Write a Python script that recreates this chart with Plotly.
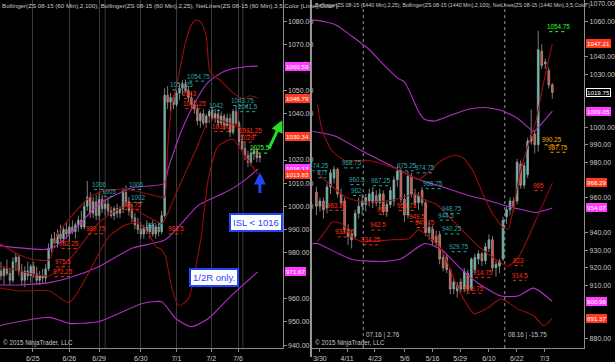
import plotly.graph_objects as go
import numpy as np

# ---------------- LEFT PANEL (60 min) ----------------
L_open = [972,970,973,971,968,976,978,972,968,972,970,974,971,968,970,969,973,982,986,984,
          988,986,990,988,991,989,992,994,991,1000,1004,997,1002,996,1003,999,1001,998,996,999,
          997,999,1006,1002,998,995,992,990,988,991,989,992,988,991,989,996,1048,1045,1047,1044,
          1049,1051,1053,1050,1047,1044,1042,1037,1040,1036,1039,1041,1038,1040,1036,1039,1035,1038,1032,1041,
          1036,1028,1025,1022,1019,1023,1024,1021]
L_high = [976,974,977,973,978,980,979,975,974,976,975,976,974,972,973,975,984,988,989,990,
          992,991,993,992,994,993,996,998,1002,1011,1006,1004,1005,1006,1005,1003,1004,1000,1000,1001,
          1000,1008,1009,1004,1001,997,995,993,992,994,993,994,992,993,998,1051,1052,1049,1048,1050,
          1053,1054.5,1054.75,1052,1049,1046,1044,1041,1042,1040,1042,1043,1042,1042,1041,1040,1040,1040,1042,1043.75,
          1037,1031,1028,1024,1025,1026,1025,1023]
L_low = [968,966,970,966,967,972,970,966,965,968,967,969,966,966,967,967,972,980,982,982,
         985,984,986,985,988,986,989,990,990,998,995,995,994,994,997,996,996,995,994,995,
         995,997,1000,996,993,990,988,986,986,988,986,987,986,987,988,995,1042,1041,1042,1043,
         1046,1048,1049,1045,1042,1040,1035,1034,1035,1034,1036,1037,1036,1034,1035,1033,1034,1030,1031,1035,
         1026,1024,1020,1017,1017.5,1020,1019,1019]
L_close = [970,973,971,968,976,978,972,968,972,970,974,971,968,970,969,973,982,986,984,988,
           986,990,988,991,989,992,994,991,1000,1004,997,1002,996,1003,999,1001,998,996,999,997,
           999,1006,1002,998,995,992,990,988,991,989,992,988,991,989,996,1048,1045,1047,1044,1049,
           1051,1053,1050,1047,1044,1042,1037,1040,1036,1039,1041,1038,1040,1036,1039,1035,1038,1032,1041,1036,
           1028,1025,1022,1019,1023,1024,1021,1022]
L_ticks = ["6/25", "6/26", "6/29", "6/30", "7/1", "7/2", "7/6"]
L_tickpos = [10.67, 23, 33, 47, 59, 70.67, 79.67]
L_extra_grid = [35, 81.3]
L_yticks = [940, 950, 960, 980, 990, 1000, 1010, 1020, 1040, 1050, 1070, 1080]

# Bollinger(100) magenta
L_mu_x = [-0.33, 17, 24.7, 33, 44, 54.7, 56.3, 60.7, 65.3, 69.7, 75.3, 83, 86.3]
L_mu_y = [983, 981.7, 990, 1001, 1008, 1009.8, 1016.7, 1032.9, 1045.2, 1053.8, 1058.5, 1060.4, 1060.59]
L_mm_x = [-0.33, 6.3, 16.3, 23, 33, 44, 55.3, 66.3, 72, 77.3, 83, 86.3]
L_mm_y = [966, 966, 967, 969.1, 974, 981.9, 985.6, 1000.4, 1004, 1007.3, 1012.4, 1016.13]
L_ml_x = [-0.33, 16.3, 23, 33, 47.3, 54, 58.7, 64, 69.7, 77.3, 86.3]
L_ml_y = [948.5, 952, 949.4, 950.2, 957.9, 958.7, 951.5, 948, 951.5, 961.3, 971.67]
# Bollinger(25) dark red
L_ru_x = [-0.33, 5.3, 10.7, 16.3, 19, 29.7, 33, 38.7, 44, 54, 55, 56, 57.3, 59.7, 62, 64, 65.7, 67.3, 69, 70.3, 74, 78, 81.3, 83.7, 86.3]
L_ru_y = [983.9, 979.6, 977, 977, 988, 1003.9, 1006, 1007.3, 1006.9, 1003.9, 1004, 1025, 1042.3, 1056.4, 1070.8, 1078.5, 1080.6, 1079.4, 1073.4, 1058, 1054, 1049, 1046.5, 1047.8, 1046.79]
L_rm_x = [-0.33, 16.3, 23, 33, 42, 54, 55.3, 59.7, 65.7, 70.3, 74, 81.3, 86.3]
L_rm_y = [974.3, 970, 977, 993, 1000, 992.6, 995, 1008, 1025, 1038, 1037, 1033.5, 1030.34]
L_rl_x = [-0.33, 6.3, 16.3, 23, 33, 36.3, 42, 46.3, 49.7, 52, 54, 55.3, 57.3, 59.7, 63, 66.3, 67.3, 69.7, 73, 78, 81.3, 86.3]
L_rl_y = [964.7, 963.4, 963.4, 958.4, 979.8, 987, 992, 993, 988, 982.6, 981.3, 978.3, 965.5, 957, 960, 979.6, 987, 1012, 1026, 1029, 1023, 1013.83]

L_lbl_text = ["1054.75", "1051.25", "1043", "1042.25", "1042", "1043.75", "1041.5", "1033.25", "1031.25", "1029",
              "1025.5", "1006", "1005", "1006", "1002", "999.75", "982.25", "990.5", "988.5", "975.5", "972.25", "989.75"]
L_lbl_x = [66.3, 60.7, 63.3, 65, 72.3, 81, 83, 74.7, 83.7, 83, 87, 33, 36.3, 45.7, 46.3, 44, 23, 51.3, 58.7, 20.7, 20.7, 32]
L_lbl_y = [1056.3, 1052.5, 1048.7, 1044.4, 1043.6, 1045.7, 1043.1, 1034.6, 1032.9, 1029.9,
           1025.2, 1009.5, 1006.5, 1009.5, 1003.9, 1000.9, 983.9, 991.6, 990.3, 976.0, 971.8, 990.3]
L_lbl_kind = ["c", "c", "r", "r", "c", "c", "c", "r", "r", "r", "g", "c", "c", "c", "c", "r", "r", "c", "r", "r", "r", "r"]

L_tags = ["1060.59", "1046.79", "1030.34", "1016.13", "1013.83", "971.67"]
L_tag_y = [1060.59, 1046.79, 1030.34, 1016.13, 1013.83, 971.67]
L_tag_kind = ["m", "r", "r", "m", "r", "m"]

# ---------------- RIGHT PANEL (1440 min) ----------------
R_open = [963,955,958,954,966,971,976,962,958,942,936,938,951,955,956,958,957,961,957,962,
          952,956,958,970,975,959,950,972,962,957,964,957,940,942,938,939,926,926,919,908,
          907,912,908,917,908,919,925,928,924,931,936,920,921,925,949,953,958,958,979,967,
          973,992,996,990,1043,1036,1032,1024]
R_high = [966,960,960,968,976,978,977,965,960,945,941,953,960,962,962,965,966,964,965,964,
          958,966,972,978,977,962,975,974,965,963,966,959,946,944,941,941,930,928,920,914,
          912,914,920,919,926,928,930,929,934,939,938,924,925,949,955,960,960,982,981,980,
          994,1010,998,1054.75,1047,1039,1034,1025]
R_low = [950,952,948,951,962,968,960,955,940,933,931,936,948,950,952,955,954,955,953,950,
         949,954,955,966,957,946,948,960,955,953,955,938,936,933,932,922,918,917,905,905,
         903,906,906,906,907,917,922,921,922,929,918,915,917,924,945,950,952,956,965,965,
         971,990,985,986,1033,1033,1022,1016]
R_close = [955,958,953,966,974,976,962,957,942,938,939,951,955,958,960,962,963,957,962,952,
           956,964,970,975,959,950,972,962,957,961,957,940,943,935,934,925,920,919,908,912,
           910,908,918,908,925,926,928,924,932,936,920,922,924,947,953,958,955,980,967,978,
           992,995,990,1044,1035,1037,1024,1019.75]
R_ticks = ["3/30", "4/11", "4/23", "5/6", "5/16", "5/29", "6/10", "6/22", "7/3"]
R_tickpos = [1, 8.7, 16.6, 25.1, 33, 40.8, 49, 56.9, 64.8]
R_sessions = [13.3, 53.5]
R_session_txt = ["07.16 | 2.76", "08.16 | -15.75"]
R_yticks = [880, 910, 920, 930, 940, 960, 980, 990, 1000, 1030, 1040, 1060, 1070]

R_mu_x = [-1.13, 0.3, 5.4, 10.1, 14.9, 19.4, 23.4, 25, 27, 29, 30.7, 33.5, 38.3, 43.1, 47.6, 52.4, 57.2, 61.7, 63.1, 67]
R_mu_y = [1060.6, 1060.6, 1058.2, 1051.6, 1044.2, 1034.8, 1027.4, 1025.7, 1017.8, 1008.9, 1004.4, 1003.4, 1006.8, 1010.1, 1011.1, 1009.6, 1004.9, 997.6, 1000, 1009.05]
R_mm_x = [-1.13, 5.4, 13, 22.3, 29, 36.3, 43.4, 47.6, 53.2, 58.6, 62.3, 67]
R_mm_y = [997.6, 994.8, 986.4, 976.9, 970.2, 965.7, 961, 959, 955.6, 953, 951.5, 954.07]
R_ml_x = [-1.13, 0.3, 10.1, 19.4, 24.2, 30.7, 35.5, 40.3, 45.9, 52.4, 57.2, 61.7, 67]
R_ml_y = [933.8, 933.8, 924.8, 923.7, 925.3, 933.8, 930.4, 920.9, 911.3, 904, 904, 908.5, 900.96]
R_ru_x = [0.3, 1.7, 4.5, 8.2, 14.9, 19.4, 24.2, 29, 35.5, 39.2, 41.7, 44.5, 47.3, 50.1, 53, 54.4, 56.1, 57.5, 59.4, 62.3, 64.5, 67]
R_ru_y = [1012.8, 997.6, 986.4, 981, 981, 978.6, 975.2, 970.2, 981, 984, 982.5, 975, 962, 950.6, 943, 942, 955, 971, 985, 1003, 1025, 1047.21]
R_rm_x = [0.3, 2.25, 8.45, 13.5, 21.4, 28.2, 31, 34.1, 39.7, 46.2, 51, 54.4, 57.5, 62.3, 67]
R_rm_y = [974.1, 970.2, 960.1, 957.3, 958.4, 961.8, 958.4, 956, 945, 932, 924.8, 921, 926.5, 947, 968.29]
R_rl_x = [0.3, 2.8, 4.5, 7.3, 10.1, 13, 21.4, 26.2, 29, 35.5, 40.3, 44.8, 48.7, 52.4, 57.2, 61.7, 64.5, 67]
R_rl_y = [934.9, 941.6, 946.1, 945, 937.7, 934.9, 936, 936.5, 941.6, 930.4, 908, 894, 897.3, 902.4, 896.7, 892.8, 887.2, 891.37]

R_lbl_text = ["974.25", "977", "968.75", "960.5", "962", "967.25", "975.25", "974.75", "966.75",
              "963.25", "938.25", "934.25", "942.5", "955", "953.75", "949.5", "947.75",
              "944.5", "948.75", "940.25", "929.75", "906.75", "914.75", "923", "914.5", "965",
              "990.25", "987.75", "1054.75"]
R_lbl_x = [0.85, 1.7, 10.1, 11.5, 11.5, 18.3, 25.6, 30.7, 33.2,
           5.9, 8.2, 15.5, 17.5, 18.9, 25.6, 28.5, 30.7,
           36.9, 38.6, 38.6, 40.6, 44.8, 47.3, 57.5, 57.7, 63.1,
           67, 68.7, 68.7]
R_lbl_y = [978, 974.1, 979.7, 970.2, 964, 969.6, 978, 976.9, 967.9,
           955.6, 940.5, 936, 944.4, 953.4, 955.5, 949.3, 945.8,
           950, 953.9, 942.2, 932.1, 908.5, 917.5, 924.2, 915.8, 966.8,
           992.8, 988.6, 1057.1]
R_lbl_kind = ["c", "c", "c", "c", "c", "c", "c", "c", "c",
              "r", "r", "r", "r", "r", "r", "r", "r",
              "c", "c", "c", "c", "r", "r", "r", "r", "r",
              "o", "o", "g"]

R_tags = ["1047.21", "1019.75", "1009.05", "968.29", "954.07", "900.96", "891.37"]
R_tag_y = [1047.21, 1019.75, 1009.05, 968.29, 954.07, 900.96, 891.37]
R_tag_kind = ["r", "k", "m", "r", "m", "m", "r"]

# ---------------- styles ----------------
W, H = 615, 362
BG = "#000000"
MAG = "#b22fc0"
DRED = "#9a0c0c"
UP = "#3fd3c4"
DN = "#ff3a12"
AXC = "#8c8c8c"
TXT = "#c8c8c8"
LBL_COL = {"c": "#2aa7a7", "r": "#ff3010", "g": "#33ff33", "o": "#ffa500"}
TAG_BG = {"m": "#ff3cff", "r": "#ff3a1e", "k": "#000000"}
FONT = "Liberation Sans"

fig = go.Figure()

def add_panel(xa, ya, op, hi, lo, cl, bands):
    fig.add_trace(go.Candlestick(
        x=np.arange(len(op)), open=op, high=hi, low=lo, close=cl,
        xaxis=xa, yaxis=ya,
        increasing=dict(line=dict(color="#9a9a9a", width=0.8), fillcolor=UP),
        decreasing=dict(line=dict(color="#9a9a9a", width=0.8), fillcolor=DN),
        whiskerwidth=0, showlegend=False, hoverinfo="skip"))
    for bx, by, col in bands:
        fig.add_trace(go.Scatter(x=bx, y=by, mode="lines",
                                 line=dict(color=col, width=1.1, shape="spline", smoothing=0.6),
                                 xaxis=xa, yaxis=ya, showlegend=False, hoverinfo="skip"))

add_panel("x", "y", L_open, L_high, L_low, L_close,
          [(L_mu_x, L_mu_y, MAG), (L_mm_x, L_mm_y, MAG), (L_ml_x, L_ml_y, MAG),
           (L_ru_x, L_ru_y, DRED), (L_rm_x, L_rm_y, DRED), (L_rl_x, L_rl_y, DRED)])
add_panel("x2", "y2", R_open, R_high, R_low, R_close,
          [(R_mu_x, R_mu_y, MAG), (R_mm_x, R_mm_y, MAG), (R_ml_x, R_ml_y, MAG),
           (R_ru_x, R_ru_y, DRED), (R_rm_x, R_rm_y, DRED), (R_rl_x, R_rl_y, DRED)])

ydom = [9 / H, 1]
axis_common = dict(showline=True, linecolor=AXC, linewidth=1, ticks="outside", ticklen=3, tickcolor=AXC,
                   tickfont=dict(size=7, color=TXT, family=FONT), zeroline=False)

fig.update_layout(
    width=W, height=H, margin=dict(l=0, r=0, t=0, b=0),
    paper_bgcolor=BG, plot_bgcolor=BG, showlegend=False,
    xaxis=dict(domain=[0, 285 / W], range=[-0.33, 94.67], anchor="y", tickvals=L_tickpos, ticktext=L_ticks,
               showgrid=True, gridcolor="#3a3a3a", gridwidth=1, rangeslider=dict(visible=False), **axis_common),
    yaxis=dict(domain=ydom, range=[938.7, 1089.16], anchor="x", side="right",
               tickvals=L_yticks, ticktext=[f"{v:.2f}" for v in L_yticks],
               ticklabeloverflow="allow", showgrid=False, **axis_common),
    xaxis2=dict(domain=[315 / W, 589 / W], range=[-1.13, 76.06], anchor="y2", tickvals=R_tickpos, ticktext=R_ticks,
                showgrid=False, rangeslider=dict(visible=False), **axis_common),
    yaxis2=dict(domain=ydom, range=[874.4, 1072.2], anchor="x2", side="right",
                tickvals=R_yticks, ticktext=[f"{v:.2f}" for v in R_yticks],
                ticklabeloverflow="allow", showgrid=False, **axis_common),
)

shapes = []
for gx in L_extra_grid:
    shapes.append(dict(type="line", xref="x", yref="paper", x0=gx, x1=gx, y0=ydom[0], y1=1,
                       line=dict(color="#3a3a3a", width=1), layer="below"))
for sx in R_sessions:
    shapes.append(dict(type="line", xref="x2", yref="paper", x0=sx, x1=sx, y0=ydom[0], y1=1,
                       line=dict(color="#9a9a9a", width=1, dash="dot"), layer="below"))
# panel border
shapes.append(dict(type="line", xref="paper", yref="paper", x0=313.5 / W, x1=313.5 / W, y0=0, y1=1,
                   line=dict(color="#9a9a9a", width=2)))
# dotted underlines below NetLines labels
for t, x, y, k in zip(L_lbl_text, L_lbl_x, L_lbl_y, L_lbl_kind):
    hw = len(t) * 1.3 / 3.0
    shapes.append(dict(type="line", xref="x", yref="y", x0=x - hw, x1=x + hw, y0=y - 2.2, y1=y - 2.2,
                       line=dict(color=LBL_COL[k], width=1, dash="dot")))
for t, x, y, k in zip(R_lbl_text, R_lbl_x, R_lbl_y, R_lbl_kind):
    hw = len(t) * 1.3 / 3.55
    shapes.append(dict(type="line", xref="x2", yref="y2", x0=x - hw, x1=x + hw, y0=y - 2.9, y1=y - 2.9,
                       line=dict(color=LBL_COL[k], width=1, dash="dot")))
fig.update_layout(shapes=shapes)

ann = []
small = dict(size=6.3, family=FONT)
for t, x, y, k in zip(L_lbl_text, L_lbl_x, L_lbl_y, L_lbl_kind):
    ann.append(dict(x=x, y=y, xref="x", yref="y", text=t, showarrow=False,
                    font=dict(color=LBL_COL[k], **small)))
for t, x, y, k in zip(R_lbl_text, R_lbl_x, R_lbl_y, R_lbl_kind):
    ann.append(dict(x=x, y=y, xref="x2", yref="y2", text=t, showarrow=False,
                    font=dict(color=LBL_COL[k], **small)))

for t, y, k in zip(L_tags, L_tag_y, L_tag_kind):
    ann.append(dict(x=287 / W, y=y, xref="paper", yref="y", text=t, showarrow=False, xanchor="left",
                    bgcolor=TAG_BG[k], bordercolor=TAG_BG[k], borderpad=0,
                    font=dict(size=6.2, color="#ffffff", family=FONT)))
for t, y, k in zip(R_tags, R_tag_y, R_tag_kind):
    ann.append(dict(x=591 / W, y=y, xref="paper", yref="y2", text=t, showarrow=False, xanchor="left",
                    bgcolor=TAG_BG[k], bordercolor="#ffffff" if k == "k" else TAG_BG[k], borderpad=0,
                    font=dict(size=6.2, color="#ffffff", family=FONT)))

for sx, st in zip(R_sessions, R_session_txt):
    ann.append(dict(x=sx + 0.3, y=882.0, xref="x2", yref="y2", text=st, showarrow=False, xanchor="left",
                    font=dict(size=6.3, color=TXT, family=FONT)))

# titles
ann.append(dict(x=0, y=1, xref="paper", yref="paper", xanchor="left", yanchor="top", showarrow=False,
                text="Bollinger(ZS 08-15 (60 Min),2,100), Bollinger(ZS 08-15 (60 Min),2,25), NetLines(ZS 08-15 (60 Min),3,5,Color [Lime],Color [",
                font=dict(size=6.2, color=TXT, family=FONT)))
ann.append(dict(x=316 / W, y=1, xref="paper", yref="paper", xanchor="left", yanchor="top", showarrow=False,
                text="Bollinger(ZS 08-15 (1440 Min),2,25), Bollinger(ZS 08-15 (1440 Min),2,100), NetLines(ZS 08-15 (1440 Min),3,5,Color [",
                font=dict(size=5.3, color=TXT, family=FONT)))
# copyright
for xp in [1 / W, 316 / W]:
    ann.append(dict(x=xp, y=(H - 348) / H, xref="paper", yref="paper", xanchor="left", yanchor="middle", showarrow=False,
                    text="© 2015 NinjaTrader, LLC", font=dict(size=6.3, color=TXT, family=FONT)))

# callouts
ann.append(dict(x=85.7, y=992.8, xref="x", yref="y", text="ISL &lt; 1016", showarrow=False,
                bgcolor="#ffffff", bordercolor="#1f45ff", borderwidth=2, borderpad=2,
                font=dict(size=9.5, color="#1f45ff", family=FONT)))
ann.append(dict(x=71.7, y=969.4, xref="x", yref="y", text="1/2R only.", showarrow=False,
                bgcolor="#ffffff", bordercolor="#1f45ff", borderwidth=2, borderpad=2,
                font=dict(size=9.5, color="#1f45ff", family=FONT)))
ann.append(dict(x=87, y=1014.6, xref="x", yref="y", ax=0, ay=22, text="", showarrow=True,
                arrowhead=2, arrowsize=0.8, arrowwidth=3, arrowcolor="#1f45ff"))
ann.append(dict(x=94.5, y=1037.2, xref="x", yref="y", ax=-14, ay=30, text="", showarrow=True,
                arrowhead=2, arrowsize=0.8, arrowwidth=3, arrowcolor="#22e022"))

fig.update_layout(annotations=ann)
fig.write_html("out.html")
